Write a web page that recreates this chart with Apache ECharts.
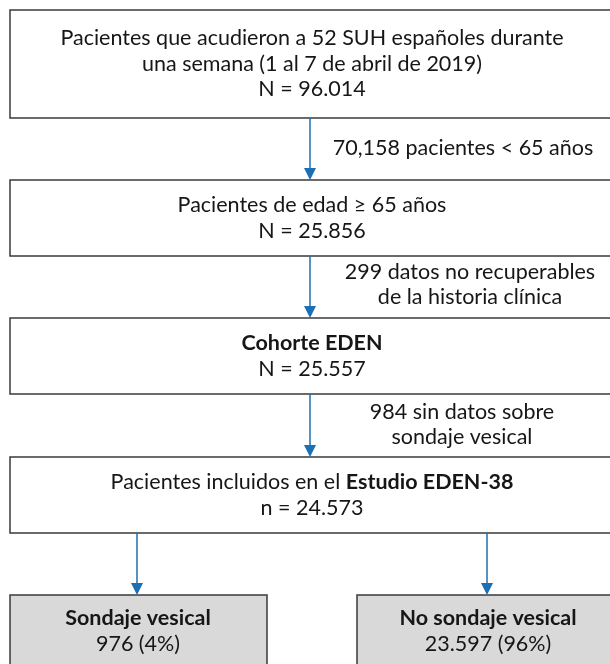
<!DOCTYPE html>
<html>
<head>
<meta charset="utf-8">
<script src="https://cdn.jsdelivr.net/npm/echarts@6/dist/echarts.min.js"></script>
<style>html,body{margin:0;padding:0;background:#fff}#c{width:610px;height:664px}</style>
</head>
<body>
<div id="c"></div>
<script>
// Flowchart content
const boxTexts = [
  ["Pacientes que acudieron a 52 SUH españoles durante", "una semana (1 al 7 de abril de 2019)", "N = 96.014"],
  ["Pacientes de edad ≥ 65 años", "N = 25.856"],
  ["{b|Cohorte EDEN}", "N = 25.557"],
  ["Pacientes incluidos en el {b|Estudio EDEN-38}", "n = 24.573"]
];
const exclusionTexts = [
  ["70,158 pacientes < 65 años"],
  ["299 datos no recuperables", "de la historia clínica"],
  ["984 sin datos sobre", "sondaje vesical"]
];
const outcomeTexts = [
  ["{b|Sondaje vesical}", "976 (4%)"],
  ["{b|No sondaje vesical}", "23.597 (96%)"]
];

const FONT = "Lato";
const FS = 21.5;
const LH = 25.5;
const BORDER = "#3a3a3a";
const BLUE = "#1b6fb5";

// layout
const boxes = [
  {x: 10, y: 10, w: 604, h: 108},
  {x: 10, y: 180, w: 604, h: 76},
  {x: 10, y: 318, w: 604, h: 76},
  {x: 10, y: 457, w: 604, h: 76}
];
const outBoxes = [
  {x: 10, y: 595, w: 257, h: 80, cx: 137},
  {x: 357, y: 595, w: 260, h: 80, cx: 487}
];
const exclPos = [
  {cx: 463, cy: 148},
  {cx: 470, cy: 284.5},
  {cx: 462, cy: 424.5}
];
const mainX = 310;

const g = [];
function textEl(lines, cx, cy) {
  return {
    type: 'text', x: cx, y: cy, z: 10,
    style: {
      text: lines.join('\n'),
      x: 0, y: 0,
      align: 'center', verticalAlign: 'middle',
      font: FS + 'px ' + FONT,
      fill: '#161616',
      lineHeight: LH,
      rich: {
        b: {fontFamily: FONT, fontSize: FS, fontWeight: 'bold', fill: '#161616', lineHeight: LH}
      }
    }
  };
}
function arrow(x, y1, y2) {
  g.push({type: 'line', z: 5, shape: {x1: x, y1: y1, x2: x, y2: y2 - 10}, style: {stroke: BLUE, lineWidth: 1.5}});
  g.push({type: 'polygon', z: 6, shape: {points: [[x - 6, y2 - 12], [x + 6, y2 - 12], [x, y2]]}, style: {fill: BLUE}});
}

boxes.forEach((b, i) => {
  g.push({type: 'rect', z: 1, shape: {x: b.x, y: b.y, width: b.w, height: b.h}, style: {fill: '#fff', stroke: BORDER, lineWidth: 1.5}});
  g.push(textEl(boxTexts[i], 312, b.y + b.h / 2));
  if (i < boxes.length - 1) {
    arrow(mainX, b.y + b.h, boxes[i + 1].y);
    g.push(textEl(exclusionTexts[i], exclPos[i].cx, exclPos[i].cy));
  }
});
outBoxes.forEach((b, i) => {
  g.push({type: 'rect', z: 1, shape: {x: b.x, y: b.y, width: b.w, height: b.h}, style: {fill: '#d9d9d9', stroke: BORDER, lineWidth: 1.5}});
  g.push(textEl(outcomeTexts[i], b.cx + 1, 631));
  arrow(b.cx, 533, b.y);
});

const chart = echarts.init(document.getElementById('c'), null, {renderer: 'canvas'});
chart.setOption({animation: false, graphic: {elements: g}});
</script>
</body>
</html>
